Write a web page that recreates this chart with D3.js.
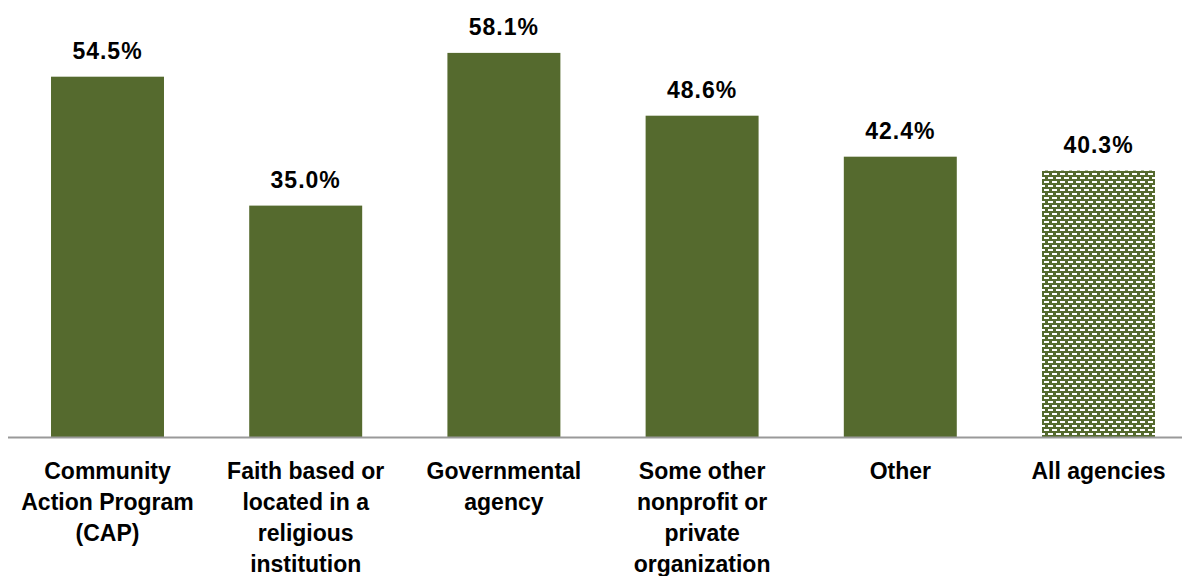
<!DOCTYPE html>
<html>
<head>
<meta charset="utf-8">
<script src="https://cdn.jsdelivr.net/npm/d3@7"></script>
<style>
  html, body { margin: 0; padding: 0; background: #fff; }
  svg { display: block; }
  text { font-family: "Liberation Sans", Arial, sans-serif; fill: #000; }
</style>
</head>
<body>
<svg id="chart" width="1182" height="576"></svg>
<script>
// Share of agencies by type
const categories = [
  ["Community", "Action Program", "(CAP)"],
  ["Faith based or", "located in a", "religious", "institution"],
  ["Governmental", "agency"],
  ["Some other", "nonprofit or", "private", "organization"],
  ["Other"],
  ["All agencies"]
];
const values = [54.5, 35.0, 58.1, 48.6, 42.4, 40.3];
const valueLabels = ["54.5%", "35.0%", "58.1%", "48.6%", "42.4%", "40.3%"];
const totalIndex = 5; // the "All agencies" bar uses the hatched fill

const svg = d3.select("#chart");
const baseY = 437;
const green = "#556a2e";

// hatched fill for the overall bar
const defs = svg.append("defs");
const pat = defs.append("pattern")
  .attr("id", "brick")
  .attr("patternUnits", "userSpaceOnUse")
  .attr("width", 8).attr("height", 8);
pat.append("rect").attr("width", 8).attr("height", 8).attr("fill", green);
pat.append("rect").attr("x", 0).attr("y", 1).attr("width", 5).attr("height", 2).attr("fill", "#fff");
pat.append("rect").attr("x", 4).attr("y", 5).attr("width", 5).attr("height", 2).attr("fill", "#fff");
pat.append("rect").attr("x", -4).attr("y", 5).attr("width", 5).attr("height", 2).attr("fill", "#fff");

const x = d3.scaleBand()
  .domain(d3.range(values.length))
  .range([8.4, 8.4 + 198.2 * values.length])
  .paddingInner(0.43)
  .paddingOuter(0.215);

const y = d3.scaleLinear().domain([0, 66.1]).range([baseY, 0]);

svg.selectAll("rect.bar")
  .data(values)
  .join("rect")
  .attr("class", "bar")
  .attr("x", (d, i) => x(i))
  .attr("width", x.bandwidth())
  .attr("y", d => y(d))
  .attr("height", d => baseY - y(d))
  .attr("fill", (d, i) => i === totalIndex ? "url(#brick)" : green);

// baseline
svg.append("line")
  .attr("x1", 8).attr("x2", 1182)
  .attr("y1", baseY + 0.5).attr("y2", baseY + 0.5)
  .attr("stroke", "#999").attr("stroke-width", 2);

// value labels
svg.selectAll("text.val")
  .data(values)
  .join("text")
  .attr("class", "val")
  .attr("x", (d, i) => x(i) + x.bandwidth() / 2)
  .attr("y", d => y(d) - 18)
  .attr("text-anchor", "middle")
  .attr("font-size", 23)
  .attr("letter-spacing", 1)
  .attr("font-weight", "bold")
  .text((d, i) => valueLabels[i]);

// category labels
const cat = svg.selectAll("text.cat")
  .data(categories)
  .join("text")
  .attr("class", "cat")
  .attr("text-anchor", "middle")
  .attr("font-size", 23)
  .attr("font-weight", "bold");
cat.selectAll("tspan")
  .data((d, i) => d.map(s => ({ s, i })))
  .join("tspan")
  .attr("x", d => x(d.i) + x.bandwidth() / 2)
  .attr("y", (d, j) => 479 + j * 31)
  .text(d => d.s);
</script>
</body>
</html>
